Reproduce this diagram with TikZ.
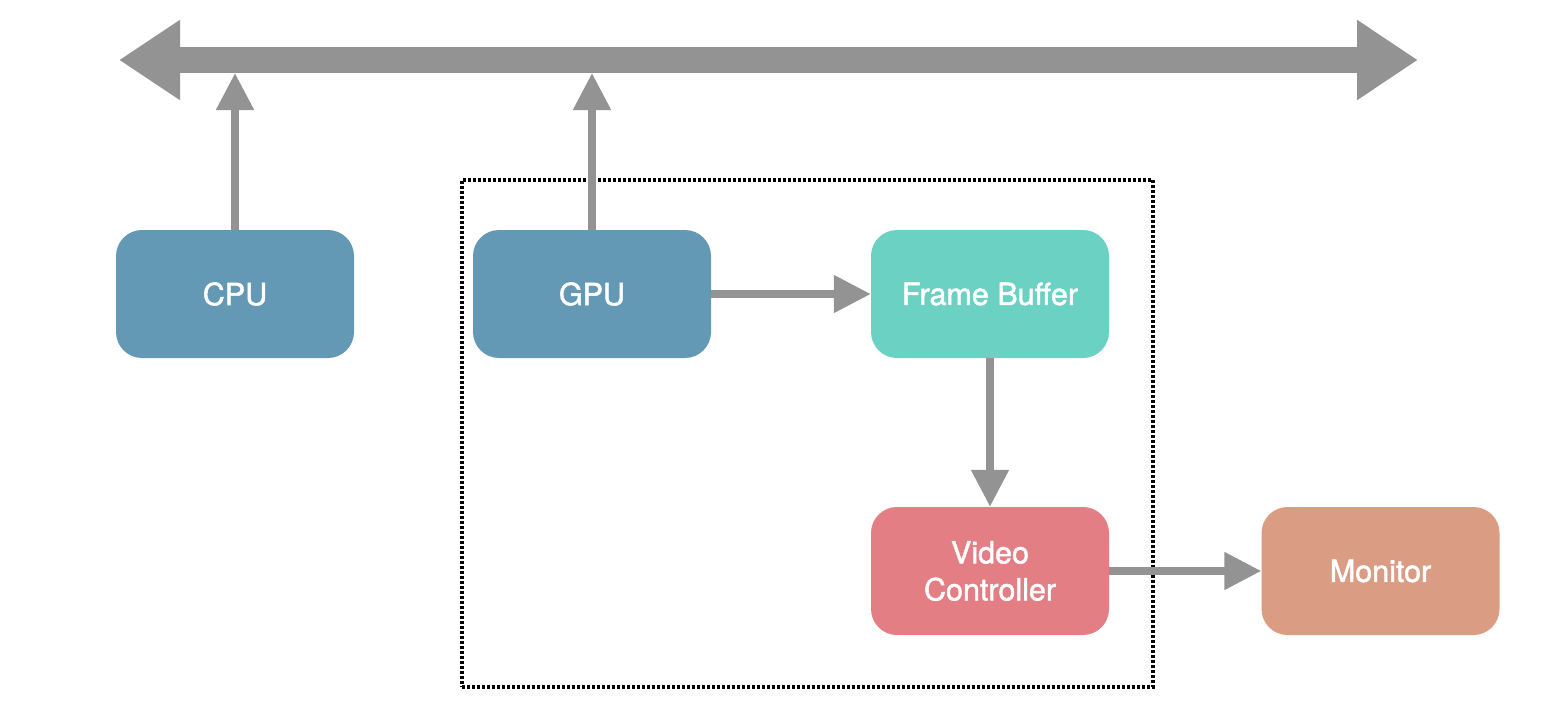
\documentclass[tikz,border=0pt]{standalone}
\usepackage{fontspec}
\setmainfont{TeX Gyre Heros}
\newfontfamily\boxfont{TeX Gyre Heros}[FakeBold=1.6]
\usetikzlibrary{arrows.meta}
\definecolor{boxblue}{HTML}{6499B6}
\definecolor{boxteal}{HTML}{6AD1C3}
\definecolor{boxred}{HTML}{E27E84}
\definecolor{boxorange}{HTML}{DB9C84}
\definecolor{arrgray}{HTML}{939393}
\tikzset{
  unit/.style={rounded corners=26pt, minimum width=238pt, minimum height=128pt,
    inner sep=0pt, text=white, align=center,
    font=\boxfont\fontsize{30.5}{37}\selectfont},
  flow/.style={draw=arrgray, line width=8pt,
    -{Triangle[length=37pt,width=36pt]}},
  bus/.style={draw=arrgray, line width=26pt,
    {Triangle[length=61pt,width=76pt]}-{Triangle[length=61pt,width=76pt]}},
  region/.style={draw=black, line width=3.2pt, dash pattern=on 3pt off 2pt}
}
\begin{document}
\begin{tikzpicture}[x=1pt,y=-1pt]
\useasboundingbox (0,0) rectangle (1558,704);
\coordinate (busL) at (119,60);
\coordinate (busR) at (1418,60);
\draw[bus] (busL) -- (busR);
\node[region, minimum width=691pt, minimum height=507pt, inner sep=0pt] (gfx) at (807.5,433.5) {};
\node[unit, fill=boxblue] (cpu) at (235,294) {CPU};
\node[unit, fill=boxblue] (gpu) at (592,294) {GPU};
\node[unit, fill=boxteal] (fb) at (990,294) {Frame Buffer};
\node[unit, fill=boxred] (vc) at (990,571) {Video\\Controller};
\node[unit, fill=boxorange] (mon) at (1380.5,571) {Monitor};
\coordinate (cpubus) at (235,73);
\coordinate (gpubus) at (592,73);
\draw[flow] (cpu.north) -- (cpubus);
\draw[flow] (gpu.north) -- (gpubus);
\draw[flow] (gpu.east) -- (fb.west);
\draw[flow] (fb.south) -- (vc.north);
\draw[flow] (vc.east) -- (mon.west);
\end{tikzpicture}
\end{document}
